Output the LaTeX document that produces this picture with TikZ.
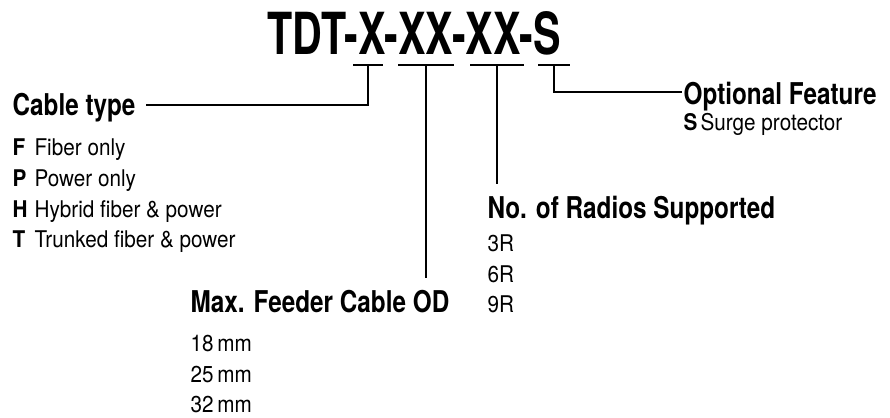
\documentclass[tikz,border=0pt]{standalone}
\usepackage{fontspec}
\usepackage{tikz}
\usetikzlibrary{positioning}
\newfontfamily\titlefont[FakeStretch=0.71]{TeX Gyre Heros}
\newfontfamily\headfont[FakeStretch=0.81]{TeX Gyre Heros}
\newfontfamily\bodyfont[FakeStretch=0.9]{TeX Gyre Heros}
\newcommand{\code}[2]{\makebox[#1][l]{\bfseries #2}}

\begin{document}
\begin{tikzpicture}[x=1pt, y=-1pt, line width=1.2pt,
  every node/.style={inner sep=0pt, anchor=base west},
  codetext/.style={font=\titlefont\bfseries\fontsize{58}{64}\selectfont},
  headtext/.style={font=\headfont\bfseries\fontsize{30}{36}\selectfont},
  itemtext/.style={font=\bodyfont\fontsize{23}{27}\selectfont}]
\useasboundingbox (0,0) rectangle (890,417);

% part number
\node[codetext, anchor=base] (pn) at (414,55) {TDT-X-XX-XX-S};

% underlines below each field
\coordinate (u1) at (368,65);
\coordinate (u2) at (426,65);
\coordinate (u3) at (497,65);
\coordinate (u4) at (554,65);
\draw ([xshift=-15pt]u1) -- ([xshift=15pt]u1);
\draw ([xshift=-28pt]u2) -- ([xshift=28pt]u2);
\draw ([xshift=-27pt]u3) -- ([xshift=27pt]u3);
\draw ([xshift=-16pt]u4) -- ([xshift=16pt]u4);

% field headings
\node[headtext] (cable) at (12,115) {Cable type};
\node[headtext] (option) at (683,105) {Optional Feature};
\node[headtext] (radios) at (487,218) {No. of Radios Supported};
\node[headtext] (feeder) at (190,312) {Max. Feeder Cable OD};

% cable type choices
\foreach \c/\t [count=\i] in {F/Fiber only, P/Power only, H/Hybrid fiber \& power, T/Trunked fiber \& power}
  \node[itemtext] (ct\i) at (12,125+30.7*\i) {\code{22pt}{\c}\t};

\node[itemtext] (sp) at (683,130) {\code{17pt}{S}Surge protector};

% radios
\foreach \r [count=\i] in {3R,6R,9R}
  \node[itemtext] (nr\i) at (487,221+30.5*\i) {\r};

% feeder sizes
\foreach \d [count=\i] in {18,25,32}
  \node[itemtext] (od\i) at (190,321+30.5*\i) {\d\,mm};

% connectors
\coordinate (fd) at ([yshift=34pt]feeder.base);
\coordinate (rd) at ([yshift=34pt]radios.base);
\draw (u1) |- ([shift={(10pt,10pt)}]cable.base east);
\draw (u2) -- (u2 |- fd);
\draw (u3) -- (u3 |- rd);
\draw (u4) |- ([shift={(-1pt,13pt)}]option.base west);
\end{tikzpicture}
\end{document}
